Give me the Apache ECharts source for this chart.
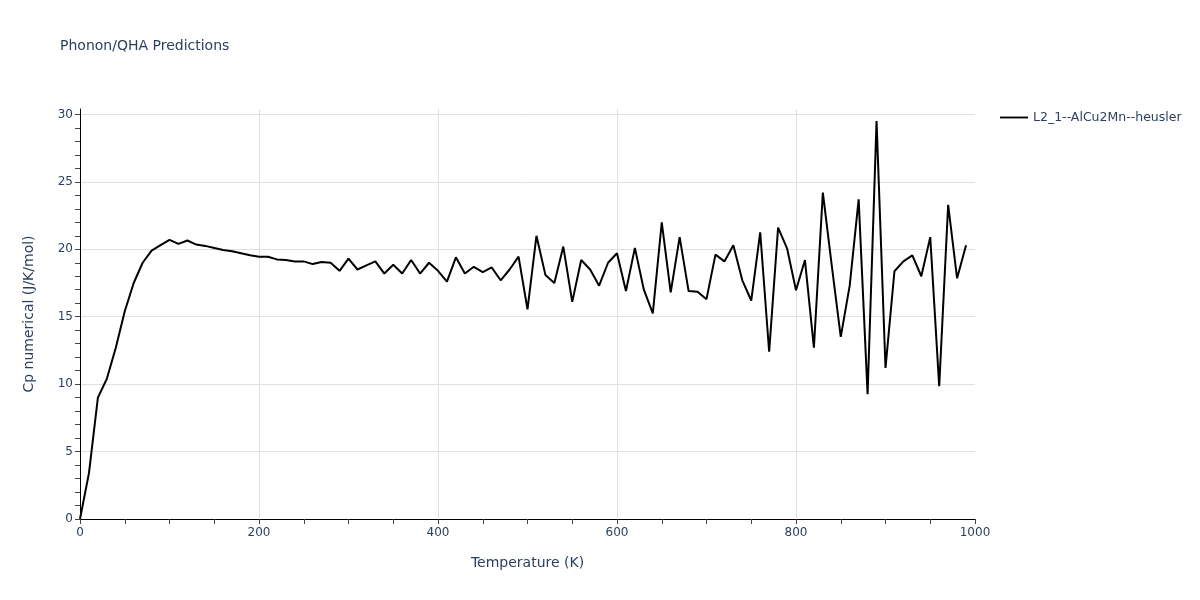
<!DOCTYPE html>
<html>
<head>
<meta charset="utf-8">
<script src="https://cdn.jsdelivr.net/npm/echarts@6/dist/echarts.min.js"></script>
<style>html,body{margin:0;padding:0;background:#fff}#c{width:1200px;height:600px}</style>
</head>
<body>
<div id="c"></div>
<script>
const temperatures = [0,10,20,30,40,50,60,70,80,90,100,110,120,130,140,150,160,170,180,190,200,210,220,230,240,250,260,270,280,290,300,310,320,330,340,350,360,370,380,390,400,410,420,430,440,450,460,470,480,490,500,510,520,530,540,550,560,570,580,590,600,610,620,630,640,650,660,670,680,690,700,710,720,730,740,750,760,770,780,790,800,810,820,830,840,850,860,870,880,890,900,910,920,930,940,950,960,970,980,990];
const cpValues = [0,3.4,9.0,10.4,12.7,15.4,17.5,19.0,19.9,20.3,20.7,20.4,20.65,20.35,20.25,20.1,19.95,19.85,19.7,19.55,19.45,19.45,19.25,19.2,19.1,19.1,18.9,19.05,19.0,18.4,19.3,18.5,18.8,19.1,18.2,18.85,18.2,19.2,18.2,19.0,18.4,17.6,19.4,18.2,18.7,18.3,18.65,17.7,18.5,19.45,15.55,21.0,18.1,17.5,20.2,16.1,19.2,18.5,17.3,19.0,19.7,16.9,20.1,17.0,15.25,22.0,16.8,20.9,16.9,16.85,16.3,19.6,19.1,20.3,17.7,16.2,21.26,12.4,21.6,20.07,16.96,19.2,12.7,24.2,18.76,13.5,17.3,23.7,9.26,29.5,11.2,18.37,19.1,19.55,18.0,20.9,9.85,23.3,17.85,20.3];
const seriesName = 'L2_1--AlCu2Mn--heusler';
const xTickLabels = [0,200,400,600,800,1000];
const yTickLabels = [0,5,10,15,20,25,30];

const font = '"DejaVu Sans", Verdana, sans-serif';
const textColor = '#2a3f5f';
const gridColor = '#e0e0e0';
const yMax = 30.4;

const yColors = [];
for (let i = 0; i <= 31; i++) yColors.push((i % 5 === 0 && i > 0 && i <= 30) ? gridColor : 'rgba(0,0,0,0)');
const xColors = [];
for (let i = 0; i <= 20; i++) xColors.push((i % 4 === 0 && i > 0 && i < 20) ? gridColor : 'rgba(0,0,0,0)');

const chart = echarts.init(document.getElementById('c'), null, {renderer: 'canvas'});
chart.setOption({
  animation: false,
  backgroundColor: '#fff',
  title: {
    text: 'Phonon/QHA Predictions',
    left: 55, top: 34,
    textStyle: {fontFamily: font, fontSize: 14, fontWeight: 'normal', color: textColor}
  },
  legend: {
    data: [seriesName],
    left: 995, top: 106,
    icon: 'path://M0,0 L30,0 L30,2 L0,2 Z',
    itemWidth: 28, itemHeight: 2, itemGap: 6,
    textStyle: {fontFamily: font, fontSize: 12.5, color: textColor}
  },
  grid: {left: 80, right: 225, top: 109, bottom: 81},
  xAxis: {
    type: 'value', min: 0, max: 1000, interval: 50,
    name: 'Temperature (K)', nameLocation: 'middle', nameGap: 37,
    nameTextStyle: {fontFamily: font, fontSize: 14, color: textColor},
    axisLine: {show: true, onZero: false, lineStyle: {color: '#000', width: 1}},
    axisTick: {show: true, length: 5, lineStyle: {color: '#444'}},
    axisLabel: {
      fontFamily: font, fontSize: 12, color: textColor, margin: 8,
      formatter: v => (xTickLabels.indexOf(v) >= 0 ? String(v) : '')
    },
    splitLine: {show: true, lineStyle: {color: xColors, width: 1}}
  },
  yAxis: {
    type: 'value', min: 0, max: yMax, interval: 1,
    name: 'Cp numerical (J/K/mol)', nameLocation: 'middle', nameGap: 44,
    nameTextStyle: {fontFamily: font, fontSize: 14, color: textColor},
    axisLine: {show: true, onZero: false, lineStyle: {color: '#000', width: 1}},
    axisTick: {show: true, length: 5, lineStyle: {color: '#444'}},
    axisLabel: {
      fontFamily: font, fontSize: 12, color: textColor, margin: 7,
      showMaxLabel: false,
      formatter: v => (yTickLabels.indexOf(v) >= 0 ? String(v) : '')
    },
    splitLine: {show: true, lineStyle: {color: yColors, width: 1}}
  },
  series: [{
    name: seriesName,
    type: 'line',
    data: temperatures.map((t, i) => [t, cpValues[i]]),
    showSymbol: false,
    symbol: 'none',
    lineStyle: {color: '#000', width: 2},
    itemStyle: {color: '#000'}
  }]
});
</script>
</body>
</html>
